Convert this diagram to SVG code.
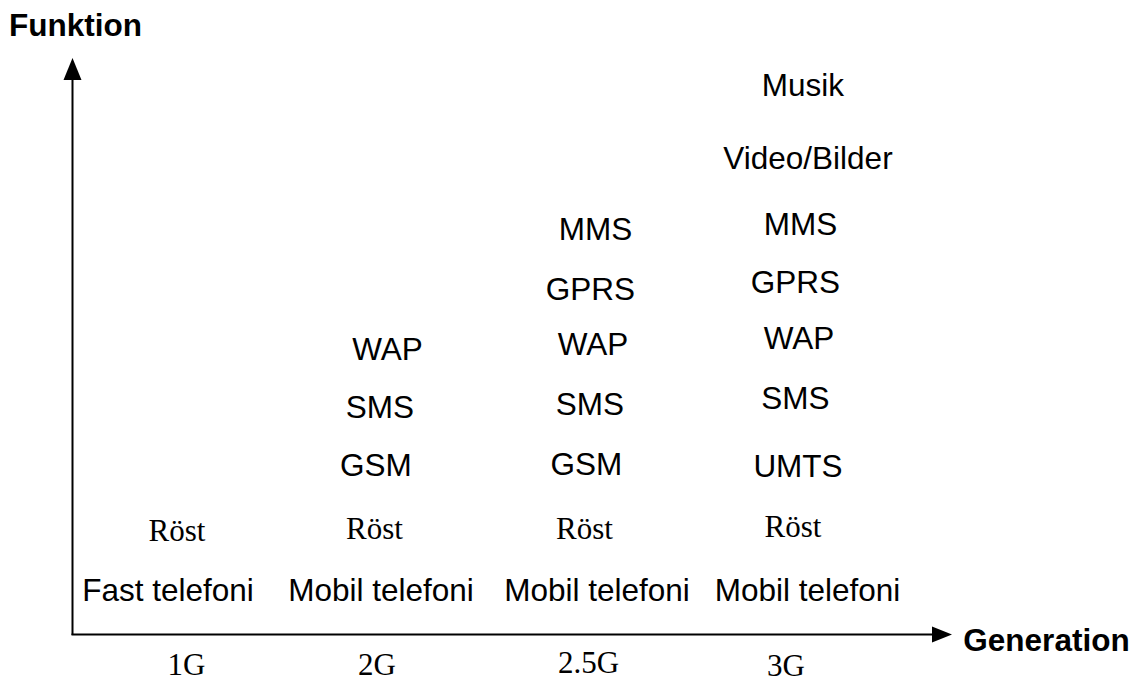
<svg xmlns="http://www.w3.org/2000/svg" width="1142" height="682" viewBox="0 0 1142 682">
<style>
.s{font-family:"Liberation Sans",Arial,sans-serif;font-size:31.5px;fill:#000;text-anchor:middle}
.b{font-family:"Liberation Sans",Arial,sans-serif;font-size:31.5px;font-weight:bold;fill:#000;text-anchor:middle}
.t{font-family:"Liberation Serif","Times New Roman",serif;font-size:31px;fill:#000;text-anchor:middle}
.ax{stroke:#000;stroke-width:2;fill:none}
</style>
<rect width="1142" height="682" fill="#fff"/>
<g id="axes">
<line class="ax" x1="72.5" y1="635" x2="72.5" y2="78"/>
<polygon points="72.5,58 63.5,80 81.5,80" fill="#000"/>
<line class="ax" x1="71.5" y1="634.5" x2="934" y2="634.5"/>
<polygon points="952,634.5 932,626.5 932,642.5" fill="#000"/>
</g>
<g id="axis-labels">
<text class="b" x="75.5" y="36">Funktion</text>
<text class="b" x="1046.5" y="651">Generation</text>
</g>
<g id="col-1G">
<text class="t" x="177" y="541">Röst</text>
<text class="s" x="168" y="601">Fast telefoni</text>
<text class="t" x="186.5" y="675">1G</text>
</g>
<g id="col-2G">
<text class="s" x="387.5" y="360">WAP</text>
<text class="s" x="380" y="418">SMS</text>
<text class="s" x="376" y="476">GSM</text>
<text class="t" x="374.5" y="539">Röst</text>
<text class="s" x="381" y="601">Mobil telefoni</text>
<text class="t" x="377" y="675">2G</text>
</g>
<g id="col-25G">
<text class="s" x="595.5" y="240">MMS</text>
<text class="s" x="590.5" y="300">GPRS</text>
<text class="s" x="593" y="355">WAP</text>
<text class="s" x="590" y="415">SMS</text>
<text class="s" x="586.5" y="475">GSM</text>
<text class="t" x="584.5" y="539">Röst</text>
<text class="s" x="597" y="601">Mobil telefoni</text>
<text class="t" x="588.5" y="673">2.5G</text>
</g>
<g id="col-3G">
<text class="s" x="803" y="96">Musik</text>
<text class="s" x="808" y="169">Video/Bilder</text>
<text class="s" x="800.5" y="235">MMS</text>
<text class="s" x="795.5" y="293">GPRS</text>
<text class="s" x="799" y="349">WAP</text>
<text class="s" x="795.5" y="409">SMS</text>
<text class="s" x="798" y="477">UMTS</text>
<text class="t" x="793" y="537">Röst</text>
<text class="s" x="807.5" y="601">Mobil telefoni</text>
<text class="t" x="786" y="676">3G</text>
</g>
</svg>
